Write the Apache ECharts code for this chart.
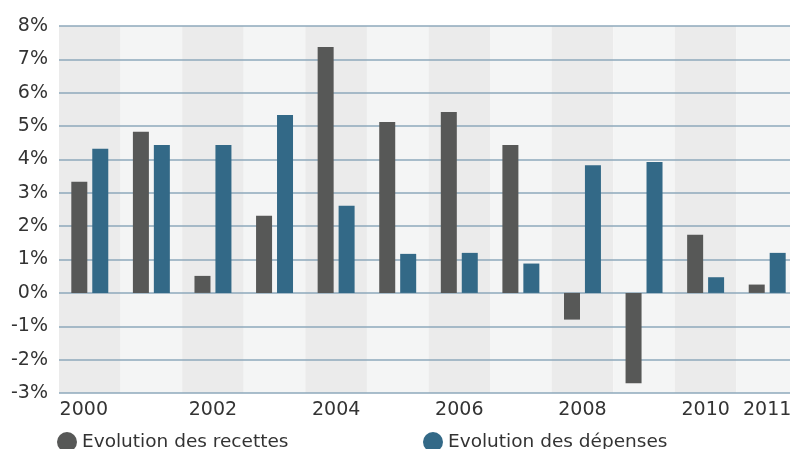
<!DOCTYPE html>
<html>
<head>
<meta charset="utf-8">
<script src="https://cdn.jsdelivr.net/npm/echarts@6/dist/echarts.min.js"></script>
<style>
html,body{margin:0;padding:0;background:#fff;}
#chart{width:790px;height:449px;}
</style>
</head>
<body>
<div id="chart"></div>
<script>
var years = ['2000','2001','2002','2003','2004','2005','2006','2007','2008','2009','2010','2011'];
var recettes = [3.33, 4.83, 0.51, 2.31, 7.37, 5.12, 5.42, 4.43, -0.80, -2.71, 1.74, 0.25];
var depenses = [4.32, 4.43, 4.43, 5.33, 2.61, 1.17, 1.20, 0.88, 3.83, 3.92, 0.47, 1.20];
var shownYears = ['2000','2002','2004','2006','2008','2010','2011'];
var yMin = -3, yMax = 8, yStep = 1;

var FONT = 'DejaVu Sans';
var chart = echarts.init(document.getElementById('chart'), null, {renderer:'canvas'});
chart.setOption({
  animation: false,
  backgroundColor: '#ffffff',
  textStyle: {fontFamily: FONT},
  grid: {left: 59, width: 739, top: 26, height: 367, containLabel: false, show: false, outerBoundsMode: 'none'},
  legend: [
    {data: ['Evolution des recettes'], left: 57, top: 432, padding: 0, icon: 'circle',
     itemWidth: 20, itemHeight: 20, itemGap: 5,
     textStyle: {fontFamily: FONT, fontSize: 18.5, color: '#333333'}},
    {data: ['Evolution des dépenses'], left: 423, top: 432, padding: 0, icon: 'circle',
     itemWidth: 20, itemHeight: 20, itemGap: 5,
     textStyle: {fontFamily: FONT, fontSize: 18.5, color: '#333333'}}
  ],
  xAxis: {
    type: 'category',
    z: 0,
    data: years,
    boundaryGap: true,
    axisLine: {show: false},
    axisTick: {show: false},
    splitLine: {show: false},
    splitArea: {show: true, interval: 0, areaStyle: {color: ['#ebebeb', '#f4f5f5']}},
    axisLabel: {
      interval: function (idx, val) { return shownYears.indexOf(val) >= 0; },
      margin: 8,
      fontFamily: FONT,
      fontSize: 19,
      color: '#333333',
      formatter: function (val, idx) { return idx === 0 ? '{a|' + val + '}' : val; },
      rich: {a: {fontFamily: FONT, fontSize: 19, color: '#333333', padding: [0, 12, 0, 0]}}
    }
  },
  yAxis: {
    type: 'value',
    z: 1,
    min: yMin, max: yMax, interval: yStep,
    axisLine: {show: false},
    axisTick: {show: false},
    splitLine: {show: true, showMinLine: true, showMaxLine: true, lineStyle: {color: '#8ea9bb', width: 1.5}},
    axisLabel: {
      margin: 11,
      fontFamily: FONT,
      fontSize: 19,
      color: '#333333',
      formatter: function (v) { return v + '%'; }
    }
  },
  series: [
    {name: 'Evolution des recettes', type: 'bar', z: 3, data: recettes, barWidth: 16, barGap: '31%',
     itemStyle: {color: '#575857'}},
    {name: 'Evolution des dépenses', type: 'bar', z: 3, data: depenses, barWidth: 16, barGap: '31%',
     itemStyle: {color: '#336987'}}
  ]
});
</script>
</body>
</html>
